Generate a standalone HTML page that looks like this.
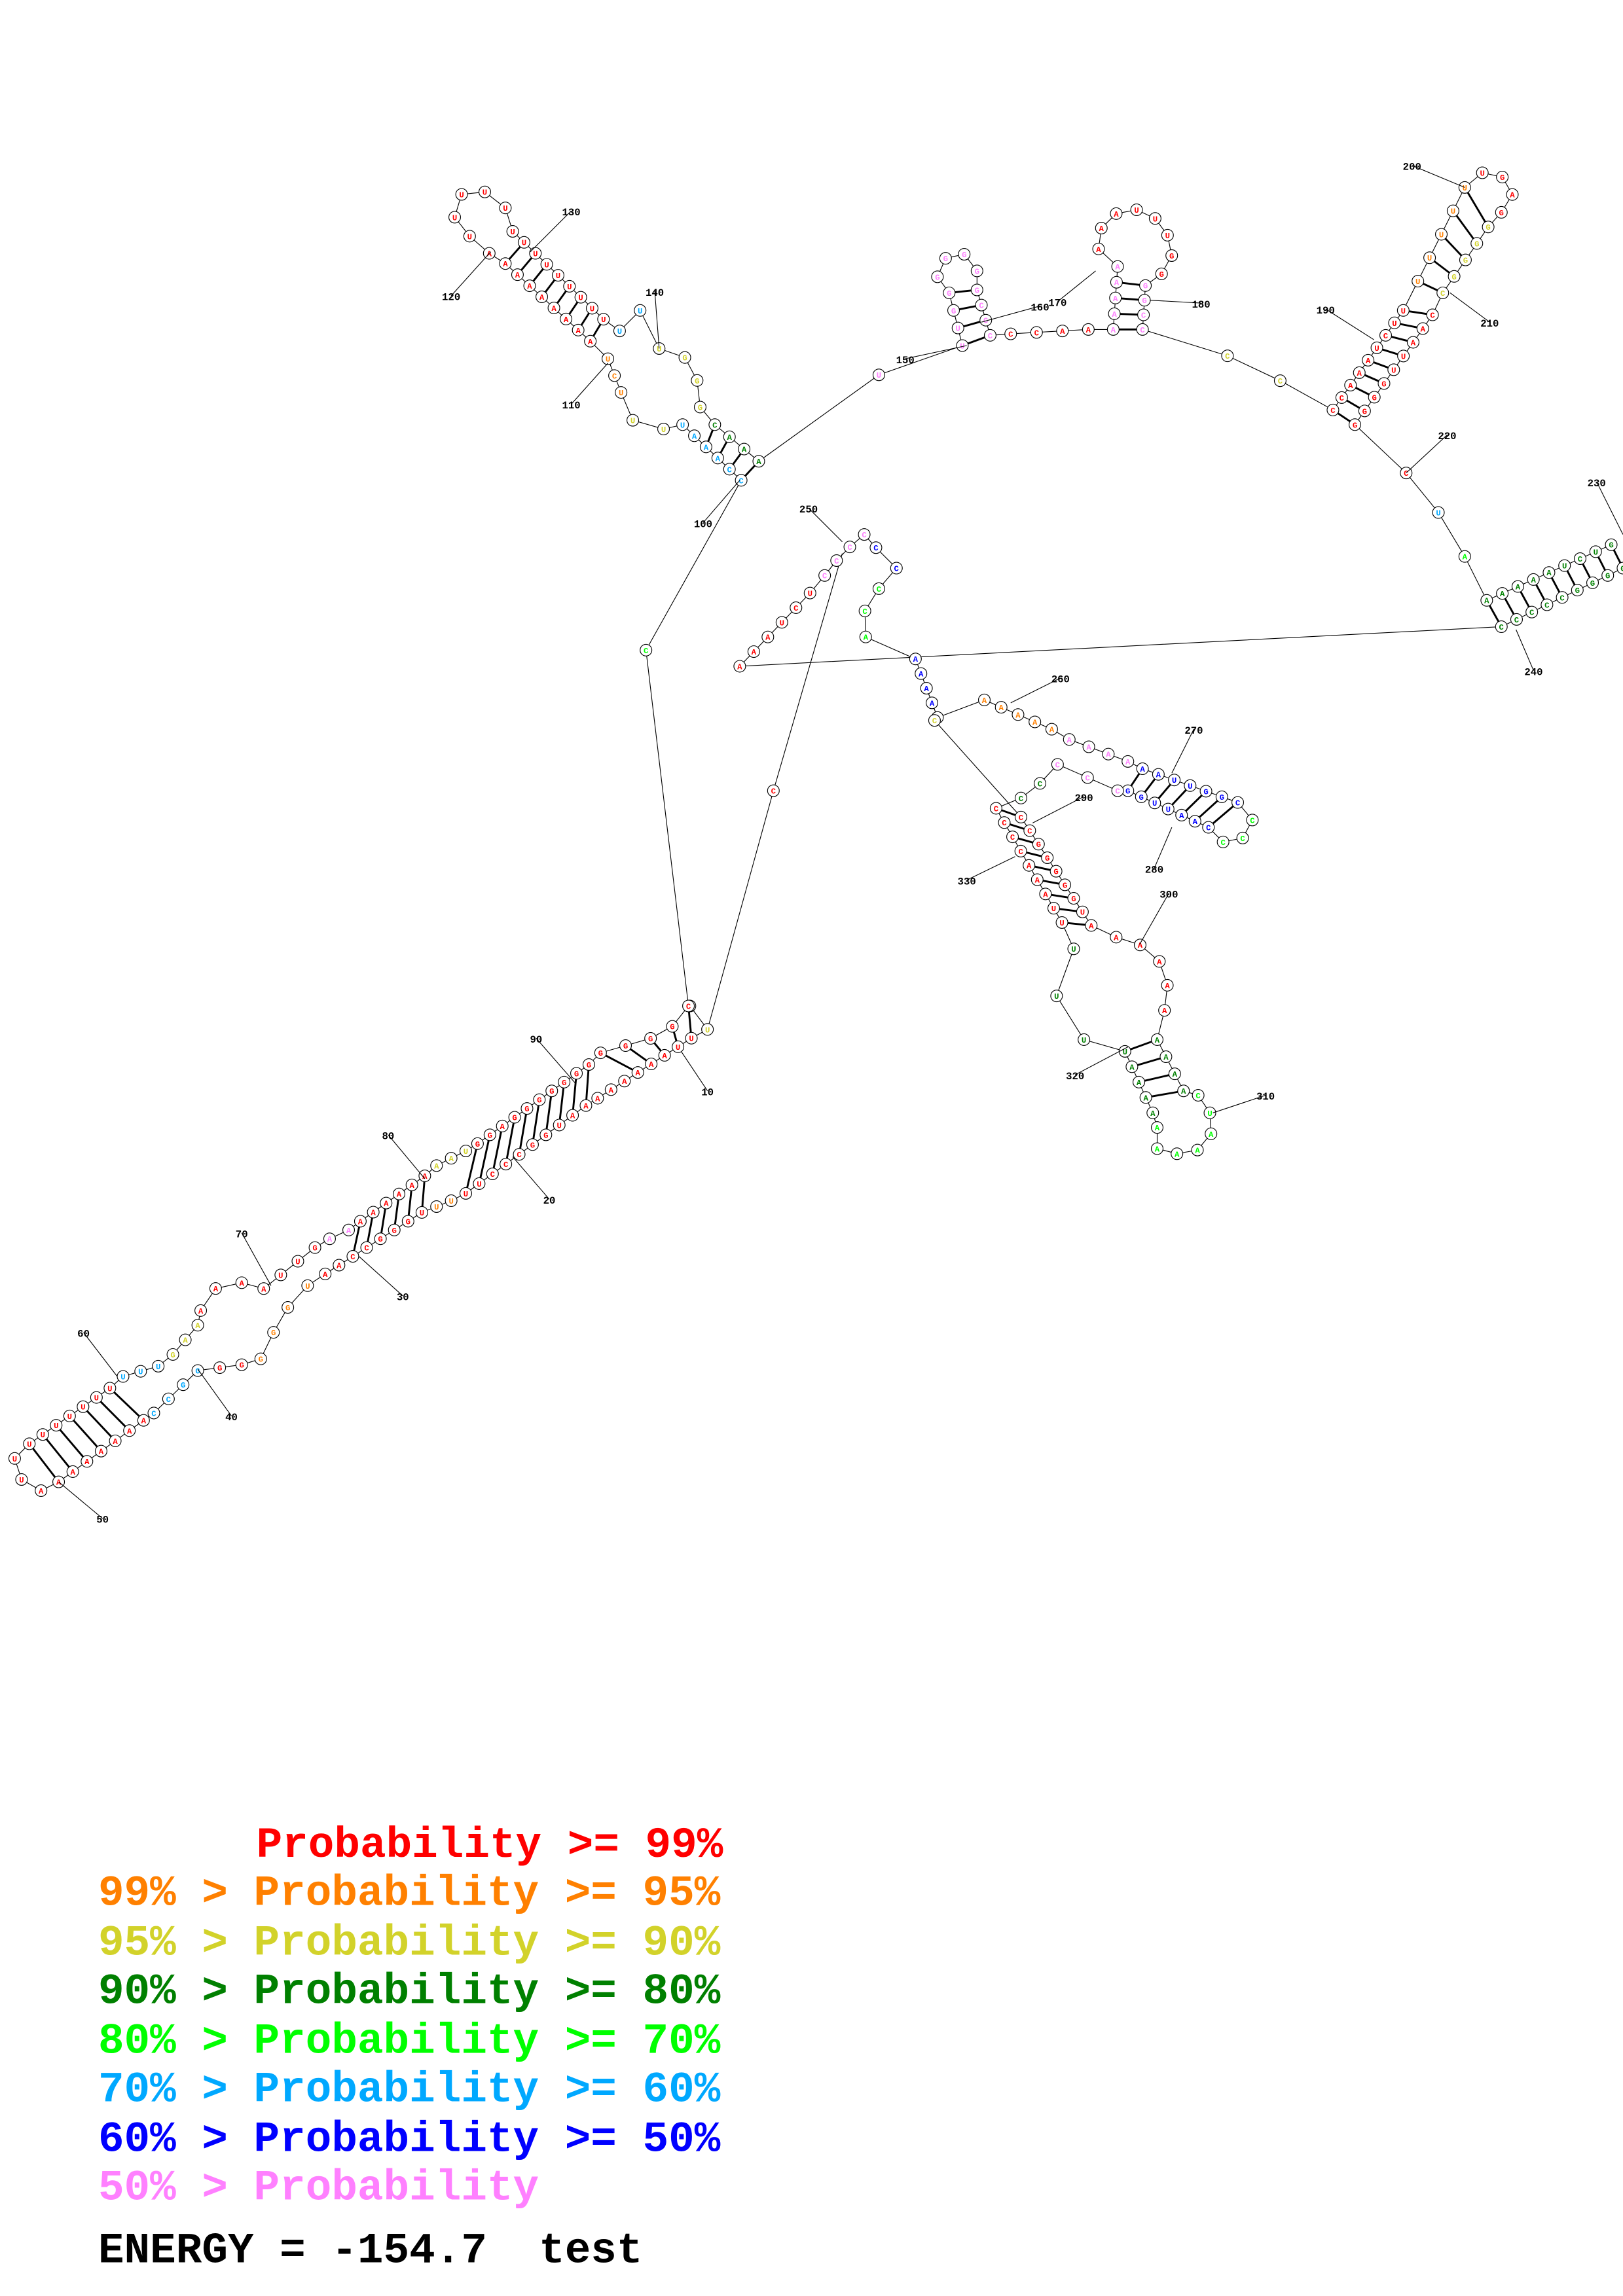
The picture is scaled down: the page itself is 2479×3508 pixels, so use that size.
<!DOCTYPE html>
<html><head><meta charset="utf-8">
<style>html,body{margin:0;padding:0;background:#fff;}svg{display:block;}</style>
</head><body>
<svg id="s" xmlns="http://www.w3.org/2000/svg" width="2479" height="3508" viewBox="0 0 1108 1568">
<rect width="1108" height="1568" fill="#fff"/>
<g id="bb"></g><g id="bp"></g><g id="nt"></g><g id="lb"></g>
<g font-family="'Liberation Mono', monospace" font-weight="bold" font-size="29.5">
<text x="175" y="1268" fill="#ff0000">Probability &gt;= 99%</text>
<text x="67" y="1301" fill="#ff8000">99% &gt; Probability &gt;= 95%</text>
<text x="67" y="1335" fill="#d2d22a">95% &gt; Probability &gt;= 90%</text>
<text x="67" y="1368" fill="#008000">90% &gt; Probability &gt;= 80%</text>
<text x="67" y="1402" fill="#00ff00">80% &gt; Probability &gt;= 70%</text>
<text x="67" y="1435" fill="#00a8ff">70% &gt; Probability &gt;= 60%</text>
<text x="67" y="1469" fill="#0000ff">60% &gt; Probability &gt;= 50%</text>
<text x="67" y="1502" fill="#ff80ff">50% &gt; Probability</text>
<text x="67" y="1545" fill="#000">ENERGY = -154.7&#160;&#160;test</text>
</g>
</svg>
<script>
var C={r:'#ff0000',o:'#ff8000',y:'#d2d22a',d:'#008000',g:'#00ff00',c:'#00a8ff',b:'#0000ff',p:'#ff80ff'};
var segs=[
[[[471,687],[483,703]],2,'y'],
[[[472,709],[408,750]],8,'r'],
[[[400,755],[318,815]],10,'r'],
[[[308,820],[298,824]],2,'o'],
[[[288,828],[222,870]],8,'r'],
[[[210,878],[190,900],[186,912],[178,928]],4,'o'],
[[[165,932],[150,934]],2,'r'],
[[[135,936],[105,965]],4,'c'],
[[[98,970],[40,1012]],7,'r'],
[[[28,1018],[14,1010],[10,996]],3,'r'],
[[[20,986],[75,948]],7,'r'],
[[[84,940],[108,933]],3,'c'],
[[[118,925],[135,905]],3,'y'],
[[[137,895],[147,880],[165,876]],3,'r'],
[[[180,880],[215,852]],4,'r'],
[[[225,846],[238,840]],2,'p'],
[[[246,834],[290,803]],6,'r'],
[[[298,796],[318,786]],3,'y'],
[[[326,781],[402,727]],10,'r'],
[[[410,719],[455,706],[470,687]],5,'r'],
[[[441,444]],1,'g'],
[[[506,328],[466,290]],6,'c'],
[[[453,293],[432,287]],2,'y'],
[[[424,268],[415,245]],3,'o'],
[[[403,233],[345,180]],8,'r'],
[[[334,173],[310,152],[312,134],[327,128],[345,142]],6,'r'],
[[[350,158],[412,218]],9,'r'],
[[[423,226],[437,212]],2,'c'],
[[[450,238],[470,245],[478,265],[478,278]],4,'y'],
[[[488,290],[518,315]],4,'d'],
[[[600,256]],1,'p'],
[[[657,236],[648,200]],4,'p'],
[[[640,189],[644,177],[657,172],[667,185]],4,'p'],
[[[667,198],[676,229]],4,'p'],
[[[690,228],[743,225]],4,'r'],
[[[760,225],[763,182]],5,'p'],
[[[750,170],[752,155],[763,145],[778,143],[790,150],[798,162],[800,175],[793,187]],8,'r'],
[[[782,195],[780,225]],4,'p'],
[[[838,243],[874,260]],2,'y'],
[[[910,280],[958,212]],9,'r'],
[[[968,192],[1000,128]],5,'o'],
[[[1012,118],[1025,120],[1033,132],[1025,145]],4,'r'],
[[[1016,155],[985,200]],5,'y'],
[[[978,215],[925,290]],9,'r'],
[[[960,323]],1,'r'],
[[[982,350]],1,'c'],
[[[1000,380]],1,'g'],
[[[1015,410],[1100,372]],9,'d'],
[[[1108,388],[1025,428]],9,'d'],
[[[505,455],[553,405]],6,'r'],
[[[563,393],[575,378],[590,365]],4,'p'],
[[[598,374],[612,388]],2,'b'],
[[[600,402],[590,418],[591,435]],3,'g'],
[[[625,450],[640,490]],5,'b'],
[[[672,478],[718,498]],5,'o'],
[[[730,505],[770,520]],4,'p'],
[[[780,525],[845,548]],7,'b'],
[[[855,560],[848,573],[835,575]],3,'g'],
[[[825,565],[770,540]],7,'b'],
[[[763,540],[722,522]],3,'p'],
[[[710,535],[697,545]],2,'d'],
[[[680,552],[725,630]],9,'r'],
[[[733,648],[720,678],[740,710]],3,'d'],
[[[768,718],[787,760]],5,'d'],
[[[790,770],[790,785],[803,788],[817,786],[827,774],[826,760],[818,748]],7,'g'],
[[[808,745],[790,710]],4,'d'],
[[[795,690],[797,673],[792,657],[778,645],[762,640]],5,'r'],
[[[745,632],[697,558]],9,'r'],
[[[638,492]],1,'y']
];
function pts(path,n){
 if(n==1||path.length==1){return [path[0]];}
 var L=[0];for(var i=1;i<path.length;i++){L.push(L[i-1]+Math.hypot(path[i][0]-path[i-1][0],path[i][1]-path[i-1][1]));}
 var T=L[L.length-1],out=[];
 for(var k=0;k<n;k++){var d=T*k/(n-1),j=1;while(j<L.length-1&&L[j]<d)j++;
  var t=(d-L[j-1])/((L[j]-L[j-1])||1);out.push([path[j-1][0]+t*(path[j][0]-path[j-1][0]),path[j-1][1]+t*(path[j][1]-path[j-1][1])]);}
 return out;}
var all=[],segP=[];
segs.forEach(function(s){var p=pts(s[0],s[1]);segP.push(p);p.forEach(function(q){all.push([q[0],q[1],s[2]]);});});
var NS='http://www.w3.org/2000/svg';
function el(t,a,par,txt){var e=document.createElementNS(NS,t);for(var k in a)e.setAttribute(k,a[k]);if(txt)e.textContent=txt;document.getElementById(par).appendChild(e);return e;}
var d='M'+all.map(function(q){return q[0].toFixed(1)+' '+q[1].toFixed(1);}).join(' L');
el('path',{d:d,fill:'none',stroke:'#000','stroke-width':0.5},'bb');
el('path',{d:'M483 703 L528 540 L575 378',fill:'none',stroke:'#000','stroke-width':0.5},'bb');
all.push([528,540,'r']);
function pair(a,b){var A=segP[a],B=segP[b].slice().reverse();var n=Math.min(A.length,B.length);
 for(var i=0;i<n;i++)el('line',{x1:A[i][0],y1:A[i][1],x2:B[i][0],y2:B[i][1],stroke:'#000','stroke-width':1.3},'bp');}
[[1,19],[2,18],[4,16],[8,10],[24,26],[21,29],[31,33],[35,37],[39,43],[40,42],[47,48],[56,58],[61,67],[63,65]].forEach(function(p){pair(p[0],p[1]);});
var L='ACGU',seed=7;
all.forEach(function(q){seed=(seed*1103515245+12345)%2147483648;
 el('circle',{cx:q[0],cy:q[1],r:4,fill:'#fff',stroke:'#000','stroke-width':0.5},'nt');
 el('text',{x:q[0],y:q[1]+2,'font-size':5.5,'font-family':'Liberation Mono, monospace','font-weight':'bold','text-anchor':'middle',fill:C[q[2]]},'nt',L[(seed>>8)%4]);});
var labs=[[483,748,465,718,'10'],[375,822,350,790,'20'],[275,888,245,858,'30'],[158,970,135,935,'40'],[70,1040,40,1012,'50'],[57,913,80,940,'60'],[165,845,185,878,'70'],[265,778,290,805,'80'],[366,712,393,740,'90'],[480,360,505,328,'100'],[390,279,415,248,'110'],[308,205,335,172,'120'],[390,147,362,172,'130'],[447,202,450,238,'140'],[618,248,660,236,'150'],[710,212,670,220,'160'],[722,209,748,185,'170'],[820,210,785,205,'180'],[905,214,938,232,'190'],[964,116,1000,128,'200'],[1017,223,990,200,'210'],[988,300,960,323,'220'],[1090,332,1108,365,'230'],[1047,461,1035,430,'240'],[552,350,575,370,'250'],[724,466,690,480,'260'],[815,501,800,528,'270'],[788,596,800,565,'280'],[740,547,705,562,'290'],[798,613,778,645,'300'],[864,751,828,760,'310'],[734,737,770,715,'320'],[660,604,693,585,'330']];
labs.forEach(function(l){el('line',{x1:l[0],y1:l[1]-3,x2:l[2],y2:l[3],stroke:'#000','stroke-width':0.5},'lb');
 el('text',{x:l[0],y:l[1],'font-size':7,'font-family':'Liberation Mono, monospace','font-weight':'bold','text-anchor':'middle',fill:'#000'},'lb',l[4]);});
</script>
</body></html>
